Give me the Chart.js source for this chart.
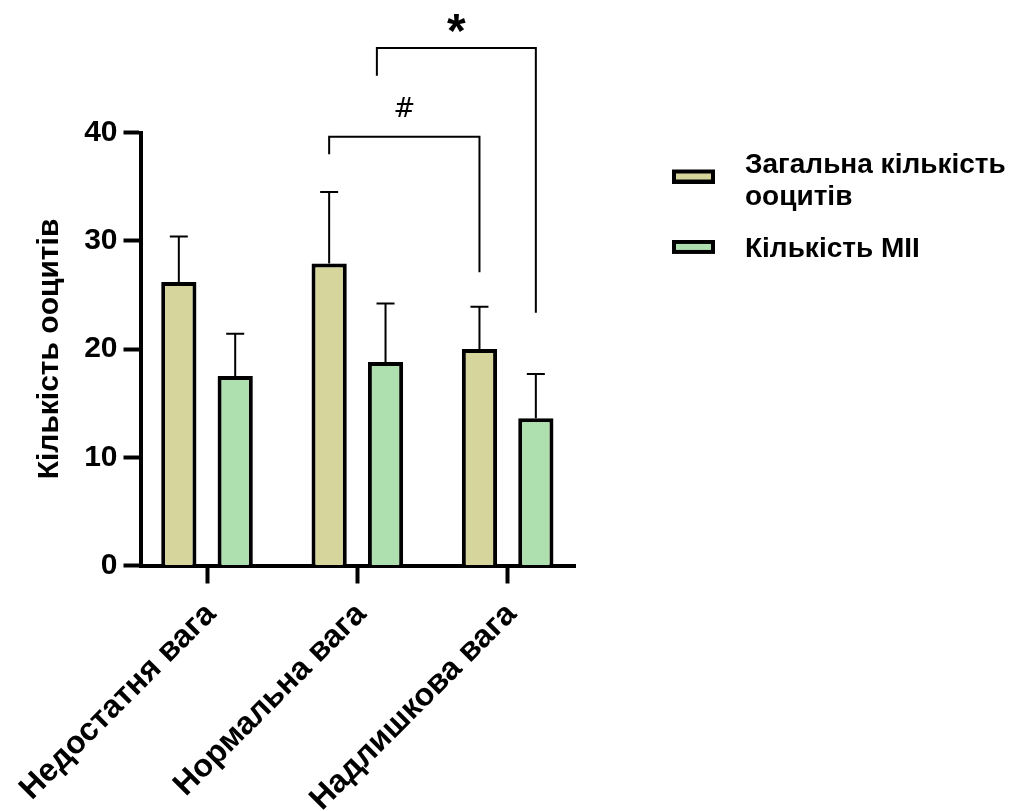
<!DOCTYPE html>
<html lang="uk">
<head>
<meta charset="utf-8">
<title>Кількість ооцитів</title>
<script src="https://cdn.jsdelivr.net/npm/chart.js@4.4.1/dist/chart.umd.min.js"></script>
<style>
  html, body { margin: 0; padding: 0; background: #ffffff; }
  #chart { display: block; }
</style>
</head>
<body>
<canvas id="chart" width="1032" height="811"></canvas>
<script>
// ---- data ----
const categories = ['Недостатня вага', 'Нормальна вага', 'Надлишкова вага'];
const seriesNames = [['Загальна кількість', 'ооцитів'], 'Кількість МІІ'];
const totalMean = [26.2, 27.9, 20.0];
const totalSD = [4.2, 6.6, 3.9];
const miiMean = [17.5, 18.8, 13.6];
const miiSD = [3.9, 5.4, 4.1];
const yTicks = [0, 10, 20, 30, 40];
const yTitle = 'Кількість ооцитів';

// significance brackets (x in group units, y in axis units)
const brackets = [
  { label: '#', from: 0.8125, to: 1.8125, top: 39.6, leftEnd: 38.0, rightEnd: 27.1, labelY: 41.45, font: 'normal 26px "DejaVu Sans", sans-serif' },
  { label: '*', from: 1.13, to: 2.1875, top: 47.8, leftEnd: 45.25, rightEnd: 23.35, labelY: 47.9, font: 'bold 48px "Liberation Sans", Arial, sans-serif' }
];

// ---- style ----
const FONT = '"Liberation Sans", Arial, Helvetica, sans-serif';
const colors = ['#D6D69C', '#AEE0AF'];
const CANVAS_W = 1032;
const PLOT_RIGHT = 575;      // right end of the x axis
const LEGEND_LEFT = 637;     // left edge of the legend block
const LEGEND_FONT = 28;
const LEGEND_PAD = 19;
const SWATCH_SLOT = 75;

// legend width as Chart.js computes it (padding + slot + half font + longest text + 10)
function legendWidth() {
  const g = document.createElement('canvas').getContext('2d');
  g.font = 'bold ' + LEGEND_FONT + 'px ' + FONT;
  const widths = seriesNames.map(n => {
    const t = Array.isArray(n) ? n.reduce((a, b) => (a.length > b.length ? a : b)) : n;
    return SWATCH_SLOT + LEGEND_FONT / 2 + g.measureText(t).width;
  });
  return LEGEND_PAD + Math.max(...widths) + 10;
}
const rightPad = Math.max(0, CANVAS_W - LEGEND_LEFT - legendWidth());

// legend swatch: outlined bar shape, shifted by dy so it sits between wrapped lines
function swatch(fill, dy) {
  const c = document.createElement('canvas');
  const h = 14 + 2 * Math.abs(dy);
  c.width = 43; c.height = h;
  const g = c.getContext('2d');
  const top = h / 2 + dy - 7;
  g.fillStyle = '#000';
  g.fillRect(0, top, 43, 14);
  g.fillStyle = fill;
  g.fillRect(4, top + 4, 35, 6);
  return c;
}

const errorBars = {
  id: 'errorBars',
  afterDatasetsDraw(chart) {
    const { ctx, scales: { y } } = chart;
    ctx.save();
    ctx.strokeStyle = '#000';
    ctx.lineWidth = 2;
    chart.data.datasets.forEach((ds, i) => {
      const meta = chart.getDatasetMeta(i);
      meta.data.forEach((bar, j) => {
        const top = y.getPixelForValue(ds.data[j].y + ds.errors[j]);
        ctx.beginPath();
        ctx.moveTo(bar.x, bar.y);
        ctx.lineTo(bar.x, top);
        ctx.moveTo(bar.x - 9, top);
        ctx.lineTo(bar.x + 9, top);
        ctx.stroke();
      });
    });
    ctx.restore();
  }
};

const sigBrackets = {
  id: 'sigBrackets',
  afterDraw(chart) {
    const { ctx, scales: { x, y } } = chart;
    ctx.save();
    ctx.strokeStyle = '#000';
    ctx.fillStyle = '#000';
    ctx.lineWidth = 2;
    brackets.forEach(b => {
      const xa = x.getPixelForValue(b.from);
      const xb = x.getPixelForValue(b.to);
      const yt = y.getPixelForValue(b.top);
      ctx.beginPath();
      ctx.moveTo(xa, y.getPixelForValue(b.leftEnd));
      ctx.lineTo(xa, yt);
      ctx.lineTo(xb, yt);
      ctx.lineTo(xb, y.getPixelForValue(b.rightEnd));
      ctx.stroke();
      ctx.font = b.font;
      ctx.textAlign = 'center';
      ctx.textBaseline = 'alphabetic';
      ctx.fillText(b.label, (xa + xb) / 2, y.getPixelForValue(b.labelY));
    });
    ctx.restore();
  }
};

const toPoints = arr => arr.map((v, i) => ({ x: i, y: v }));

new Chart(document.getElementById('chart'), {
  type: 'bar',
  data: {
    datasets: [
      { label: 'Загальна кількість ооцитів', data: toPoints(totalMean), errors: totalSD,
        backgroundColor: colors[0], borderColor: '#000', borderWidth: 4, xAxisID: 'x', yAxisID: 'y' },
      { label: 'Кількість МІІ', data: toPoints(miiMean), errors: miiSD,
        backgroundColor: colors[1], borderColor: '#000', borderWidth: 4, xAxisID: 'x', yAxisID: 'y' }
    ]
  },
  options: {
    responsive: false,
    animation: false,
    devicePixelRatio: 1,
    categoryPercentage: 0.75,
    barPercentage: 0.625,
    layout: { padding: { top: 132.5, left: 0, right: rightPad, bottom: 0 } },
    scales: {
      x: {
        type: 'linear',
        offset: false,
        bounds: 'data',
        min: -0.4425,
        max: 2.448,
        afterBuildTicks: s => { s.ticks = categories.map((_, i) => ({ value: i })); },
        afterFit: s => { s.height = 245.5; s.paddingLeft = 0; s.paddingRight = 0; },
        ticks: {
          autoSkip: false, minRotation: 45, maxRotation: 45, padding: 12, labelOffset: 4, color: '#000',
          font: { family: FONT, size: 32, weight: 'bold' },
          callback: v => categories[v] ?? ''
        },
        grid: { display: true, offset: false, drawOnChartArea: false, drawTicks: true, tickLength: 18, tickWidth: 4, tickColor: '#000', color: '#000' },
        border: { display: true, width: 4, color: '#000' }
      },
      y: {
        type: 'linear',
        position: 'left',
        min: 0,
        max: 40,
        afterBuildTicks: s => { s.ticks = yTicks.map(v => ({ value: v })); },
        afterFit: s => { s.width = 140.5; },
        ticks: { padding: 6, color: '#000', font: { family: FONT, size: 30, weight: 'bold' } },
        grid: { display: true, drawOnChartArea: false, drawTicks: true, tickLength: 17, tickWidth: 4, tickColor: '#000', color: '#000' },
        border: { display: true, width: 4, color: '#000' },
        title: { display: true, text: yTitle, color: '#000', font: { family: FONT, size: 30, weight: 'bold' }, padding: { top: 32, bottom: 0 } }
      },
      // empty band between the plot and the legend
      gap: {
        type: 'linear',
        position: 'right',
        display: true,
        ticks: { display: false },
        grid: { display: false, drawTicks: false },
        border: { display: false },
        afterFit: s => { s.width = LEGEND_LEFT - PLOT_RIGHT; }
      }
    },
    plugins: {
      tooltip: { enabled: false },
      legend: {
        position: 'right',
        align: 'start',
        maxWidth: 440,
        labels: {
          usePointStyle: true,
          pointStyleWidth: SWATCH_SLOT,
          boxHeight: 14,
          padding: LEGEND_PAD,
          color: '#000',
          font: { family: FONT, size: LEGEND_FONT, weight: 'bold', lineHeight: 1.15 },
          generateLabels: chart => chart.data.datasets.map((ds, i) => ({
            text: seriesNames[i],
            pointStyle: swatch(ds.backgroundColor, Array.isArray(seriesNames[i]) ? 11 : -2),
            fillStyle: ds.backgroundColor,
            strokeStyle: '#000',
            lineWidth: 0,
            hidden: false,
            datasetIndex: i
          }))
        }
      }
    }
  },
  plugins: [errorBars, sigBrackets]
});
</script>
</body>
</html>
